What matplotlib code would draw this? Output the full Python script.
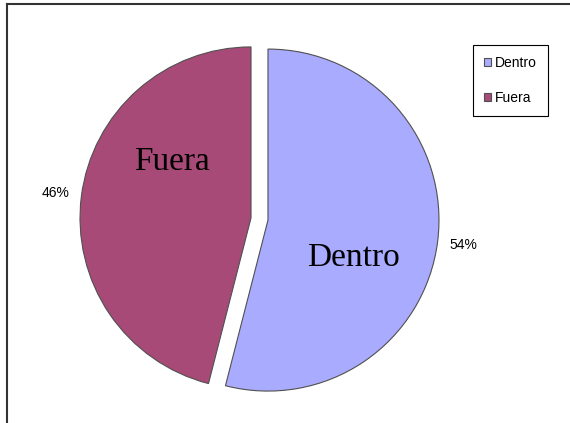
import matplotlib
matplotlib.use("Agg")
import matplotlib.pyplot as plt
from matplotlib.lines import Line2D

# datos
categorias = ['Dentro', 'Fuera']
valores = [54, 46]
colores = ['#A9ABFE', '#A84A77']

fig = plt.figure(figsize=(5.7, 4.23), dpi=100)
ax = fig.add_axes([0, 0, 1, 1])

radio = 171
# en pie() el explode va en unidades de datos cuando radius != 1
wedges, textos, pcts = ax.pie(
    valores, labels=categorias, colors=colores, startangle=90, counterclock=False,
    explode=[0.05 * radio, 0.05 * radio], center=(259.5, 204), radius=radio,
    autopct='%1.0f%%', pctdistance=1.15, labeldistance=0.5,
    wedgeprops=dict(edgecolor='#505050', linewidth=0.8),
    textprops=dict(fontsize=10, family='Liberation Sans'))

# pie() cambia los limites, se fijan despues
ax.set_xlim(0, 570)
ax.set_ylim(0, 423)
ax.set_aspect('equal')
ax.axis('off')

# etiquetas dentro de cada porcion (desplazadas respecto al centro)
desplaz = {'Dentro': (0.50, -0.22), 'Fuera': (-0.46, 0.33)}
for w, t in zip(wedges, textos):
    cx, cy = w.center
    dx, dy = desplaz[t.get_text()]
    t.set_position((cx + dx * w.r, cy + dy * w.r))
    t.set_ha('center')
    t.set_va('center')
    t.set_fontfamily('Liberation Serif')
    t.set_fontsize(24)

leg = ax.legend(wedges, categorias, loc='upper right',
                bbox_to_anchor=(548 / 570, 1 - 45 / 423), bbox_transform=fig.transFigure,
                fancybox=False, framealpha=1, edgecolor='#000000',
                prop=dict(family='Liberation Sans', size=10),
                handlelength=0.5, handleheight=0.5, handletextpad=0.3,
                labelspacing=1.5, borderpad=0.8, borderaxespad=0)
leg.get_frame().set_linewidth(0.8)

# marco del grafico
fig.add_artist(Line2D([7 / 570, 1], [1 - 4 / 423, 1 - 4 / 423], transform=fig.transFigure,
                      color='#333333', lw=1.5))
fig.add_artist(Line2D([7 / 570, 7 / 570], [0, 1 - 4 / 423], transform=fig.transFigure,
                      color='#333333', lw=1.5))

fig.savefig('out.png', dpi=100)
